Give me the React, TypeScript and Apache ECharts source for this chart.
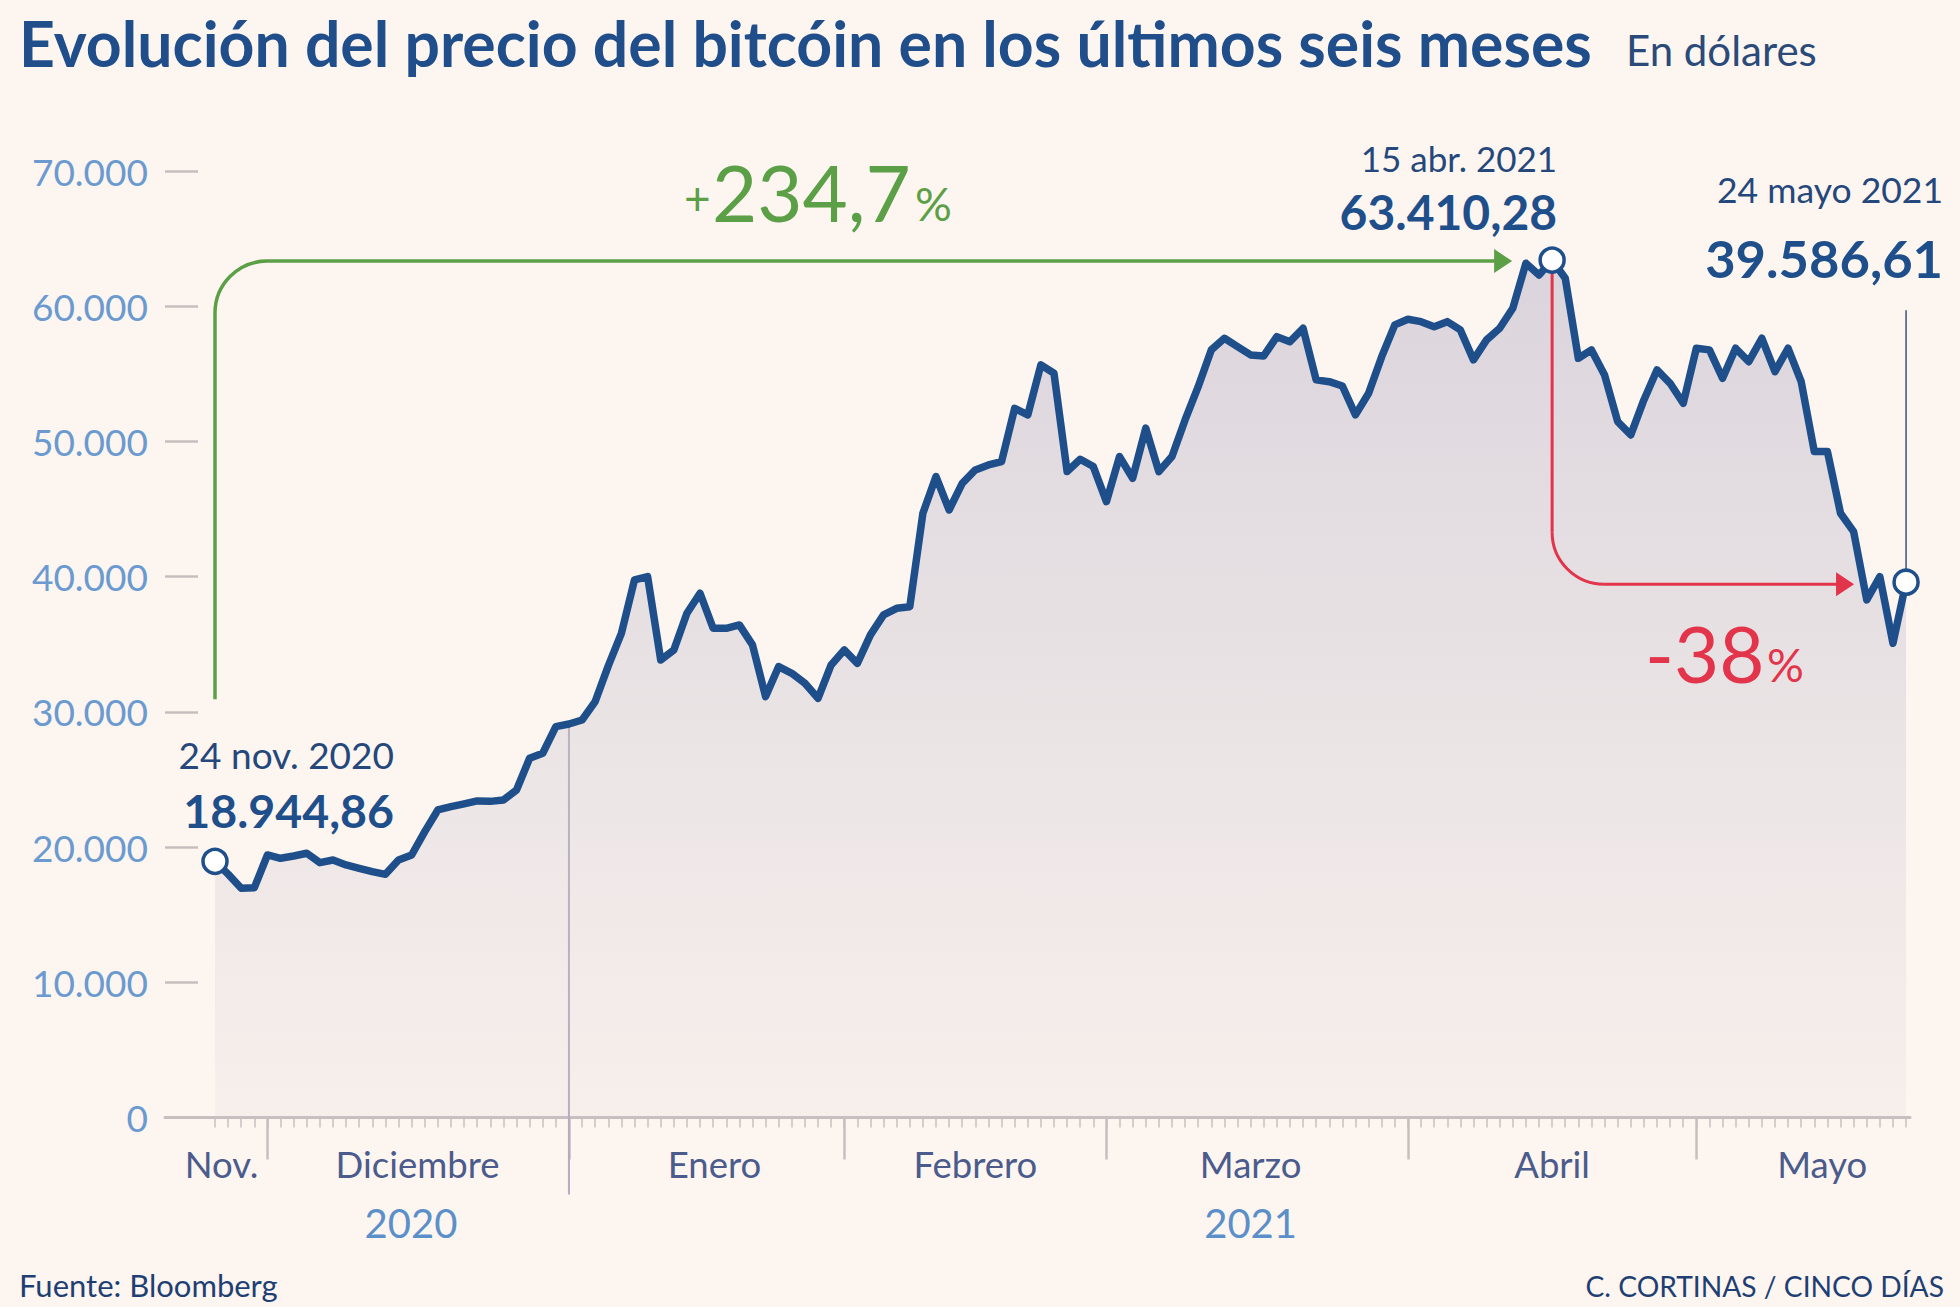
import React, { useEffect, useRef } from "react";
import * as echarts from "echarts";

// Bitcoin price, one value per weekday from 24 Nov 2020 (index 0) to 24 May 2021 (index 129)
const prices: number[] = [
  18944.86, 18000, 16950, 17000, 19415, 19170, 19340, 19540, 18850, 19045,
  18675, 18430, 18180, 17985, 19045, 19415, 21140, 22745, 22990, 23190,
  23410, 23380, 23480, 24220, 26570, 26940, 28910, 29100, 29400, 30760,
  33400, 35810, 39760, 40000, 33840, 34580, 37290, 38770, 36180, 36180,
  36430, 34950, 31130, 33350, 32850, 32110, 31000, 33470, 34580, 33590,
  35690, 37170, 37660, 37780, 44690, 47400, 44930, 46900, 47890, 48260,
  48510, 52450, 51960, 55660, 55040, 47770, 48680, 48140, 45550, 48880,
  47280, 50980, 47770, 48880, 51590, 54050, 56770, 57630, 57010, 56400,
  56320, 57750, 57380, 58370, 54550, 54420, 54100, 51960, 53560, 56270,
  58620, 59040, 58860, 58490, 58860, 58250, 56030, 57510, 58370, 59850,
  63180, 62310, 63410.28, 62070, 56150, 56770, 54920, 51470, 50480, 53070,
  55290, 54300, 52820, 56890, 56770, 54670, 56890, 55900, 57630, 55160,
  56890, 54420, 49250, 49250, 44690, 43330, 38280, 40000, 35070, 39586.61,
];

const startIndex = 0;
const peakIndex = 102;
const endIndex = 129;
const yearBreakIndex = 27; // last weekday of 2020

const monthEndIdx = [4, 27, 48, 68, 91, 113];
const monthNames = ["Nov.", "Diciembre", "Enero", "Febrero", "Marzo", "Abril", "Mayo"];
const monthLabelIdx = [0.5, 15.45, 38.1, 58, 79, 102, 122.6];
const yearNames = ["2020", "2021"];
const yearLabelIdx = [14.95, 79];

const yMin = 0;
const yMax = 70000;
const yStep = 10000;

const titleText = "Evolución del precio del bitcóin en los últimos seis meses";
const unitText = "En dólares";
const sourceText = "Fuente: Bloomberg";
const creditText = "C. CORTINAS / CINCO DÍAS";
const startDate = "24 nov. 2020";
const peakDate = "15 abr. 2021";
const endDate = "24 mayo 2021";
const riseText = "234,7";
const fallText = "-38";

const fmtThousands = (v: number) =>
  String(Math.round(v)).replace(/\B(?=(\d{3})+(?!\d))/g, ".");
const fmtPrice = (v: number) => {
  const [i, d] = v.toFixed(2).split(".");
  return fmtThousands(Number(i)) + "," + d;
};

const FONT = "Lato, 'Noto Sans', sans-serif";
const BLUE = "#1f4f8b";
const TXT = "#24477c";
const GREEN = "#5b9f47";
const RED = "#e2344a";
const AXIS = "#c7bfbf";
const BG = "#fdf5ef";

export default function App() {
  const ref = useRef<HTMLDivElement | null>(null);

  useEffect(() => {
    if (!ref.current) return;
    const chart = echarts.init(ref.current, undefined, { renderer: "svg" });
    const allIdx = prices.map((_, i) => i);
    const xMin = -3.814;
    const xMax = 129.3;

    const baseX = {
      type: "value" as const,
      min: xMin,
      max: xMax,
      position: "bottom" as const,
      offset: 0,
      splitLine: { show: false },
      axisLine: { show: false, onZero: false },
      axisTick: { show: false },
      axisLabel: { show: false },
    };

    chart.setOption({
      animation: false,
      backgroundColor: BG,
      textStyle: { fontFamily: FONT },
      grid: { left: 165, right: 50, top: 171, bottom: 189.5, containLabel: false },
      xAxis: [
        {
          ...baseX,
          axisLine: { show: true, onZero: false, lineStyle: { color: AXIS, width: 3 } },
          axisTick: {
            show: true,
            customValues: allIdx,
            length: 10,
            lineStyle: { color: AXIS, width: 1.5 },
          },
        },
        {
          ...baseX,
          axisTick: {
            show: true,
            customValues: monthEndIdx,
            length: 42,
            lineStyle: { color: AXIS, width: 2.5 },
          },
          axisLabel: {
            show: true,
            customValues: monthLabelIdx,
            formatter: (v: number) => monthNames[monthLabelIdx.indexOf(v)] ?? "",
            color: "#4a5b8c",
            fontSize: 36.5,
            fontFamily: FONT,
            margin: 28,
          },
        },
        {
          ...baseX,
          axisLabel: {
            show: true,
            customValues: yearLabelIdx,
            formatter: (v: number) => yearNames[yearLabelIdx.indexOf(v)] ?? "",
            color: "#5b8fc9",
            fontSize: 40,
            fontFamily: FONT,
            margin: 85,
          },
        },
      ],
      yAxis: {
        type: "value",
        min: yMin,
        max: yMax,
        interval: yStep,
        splitLine: { show: false },
        axisLine: { show: false, onZero: false },
        axisTick: { show: true, inside: true, length: 33, lineStyle: { color: AXIS, width: 2.5 } },
        axisLabel: {
          formatter: (v: number) => fmtThousands(v),
          color: "#6a9ad0",
          fontSize: 37,
          fontFamily: FONT,
          margin: 17,
        },
      },
      series: [
        {
          type: "line",
          xAxisIndex: 0,
          data: prices.map((v, i) => [i, v]),
          symbol: "none",
          z: 3,
          lineStyle: { color: BLUE, width: 7.5, join: "round", cap: "round" },
          areaStyle: {
            color: new echarts.graphic.LinearGradient(0, 0, 0, 1, [
              { offset: 0, color: "rgba(190,184,204,0.78)" },
              { offset: 1, color: "rgba(200,196,210,0.18)" },
            ]),
          },
        },
        {
          type: "scatter",
          xAxisIndex: 0,
          z: 6,
          symbol: "circle",
          symbolSize: 24,
          itemStyle: { color: "#ffffff", borderColor: BLUE, borderWidth: 3.5, opacity: 1 },
          data: [startIndex, peakIndex, endIndex].map((i) => [i, prices[i]]),
        },
      ],
    });

    const P = (i: number, v: number) =>
      chart.convertToPixel({ xAxisIndex: 0, yAxisIndex: 0 }, [i, v]) as number[];
    const [sx, sy] = P(startIndex, prices[startIndex]);
    const [pkx, pky] = P(peakIndex, prices[peakIndex]);
    const [ex, ey] = P(endIndex, prices[endIndex]);
    const [jx, jy] = P(yearBreakIndex, prices[yearBreakIndex]);
    const [, axisY] = P(0, 0);

    const r = 52;
    const head = 18;
    const hh = 12;
    const greenTop = pky + 1;
    const greenBottom = sy - 162;
    const greenTip = pkx - 40;
    const redY = ey + 2;
    const redTip = ex - 52;

    const txt = (
      text: string,
      x: number,
      baseline: number,
      size: number,
      opts: { bold?: boolean; color?: string; align?: string } = {}
    ) => ({
      type: "text",
      x,
      y: baseline - size * 0.36,
      z: 20,
      style: {
        text,
        fontFamily: FONT,
        fontSize: size,
        fontWeight: opts.bold ? "bold" : "normal",
        fill: opts.color ?? TXT,
        align: opts.align ?? "left",
        verticalAlign: "middle",
      },
    });

    chart.setOption({
      graphic: [
        // year separator
        {
          type: "line",
          z: 1,
          shape: { x1: jx, y1: jy, x2: jx, y2: axisY + 77 },
          style: { stroke: "#b3acc0", lineWidth: 2 },
        },
        // end guide line
        {
          type: "line",
          z: 4,
          shape: { x1: ex, y1: ey - 12, x2: ex, y2: ey - 272 },
          style: { stroke: "#3d4f7a", lineWidth: 1.5 },
        },
        // green arrow
        {
          type: "line",
          z: 4,
          shape: { x1: sx, y1: greenBottom, x2: sx, y2: greenTop + r },
          style: { stroke: GREEN, lineWidth: 3.5 },
        },
        {
          type: "arc",
          z: 4,
          shape: { cx: sx + r, cy: greenTop + r, r, startAngle: Math.PI, endAngle: Math.PI * 1.5, clockwise: true },
          style: { stroke: GREEN, lineWidth: 3.5, fill: "none" },
        },
        {
          type: "line",
          z: 4,
          shape: { x1: sx + r, y1: greenTop, x2: greenTip - head + 2, y2: greenTop },
          style: { stroke: GREEN, lineWidth: 3.5 },
        },
        {
          type: "polygon",
          z: 4,
          shape: { points: [[greenTip - head, greenTop - hh], [greenTip, greenTop], [greenTip - head, greenTop + hh]] },
          style: { fill: GREEN },
        },
        // red arrow
        {
          type: "line",
          z: 4,
          shape: { x1: pkx, y1: pky + 12, x2: pkx, y2: redY - r },
          style: { stroke: RED, lineWidth: 3 },
        },
        {
          type: "arc",
          z: 4,
          shape: { cx: pkx + r, cy: redY - r, r, startAngle: Math.PI, endAngle: Math.PI / 2, clockwise: false },
          style: { stroke: RED, lineWidth: 3, fill: "none" },
        },
        {
          type: "line",
          z: 4,
          shape: { x1: pkx + r, y1: redY, x2: redTip - head + 2, y2: redY },
          style: { stroke: RED, lineWidth: 3 },
        },
        {
          type: "polygon",
          z: 4,
          shape: { points: [[redTip - head, redY - hh], [redTip, redY], [redTip - head, redY + hh]] },
          style: { fill: RED },
        },
        // titles
        txt(titleText, 19, 65, 62.5, { bold: true, color: "#1f4e8a" }),
        txt(unitText, 1626, 65, 42, { color: "#2a4a7a" }),
        // annotations
        txt(startDate, sx + 179, sy - 94, 37, { align: "right" }),
        txt(fmtPrice(prices[startIndex]), sx + 179, sy - 35, 46.5, { bold: true, color: BLUE, align: "right" }),
        txt(peakDate, pkx + 5, pky - 90, 35, { align: "right" }),
        txt(fmtPrice(prices[peakIndex]), pkx + 5, pky - 31, 48, { bold: true, color: BLUE, align: "right" }),
        txt(endDate, ex + 37, ey - 380, 35.5, { align: "right" }),
        txt(fmtPrice(prices[endIndex]), ex + 37, ey - 306, 52.5, { bold: true, color: BLUE, align: "right" }),
        txt("+", 684, 214, 46, { color: GREEN }),
        txt(riseText, 712, 220, 78, { color: GREEN }),
        txt("%", 915, 220, 46, { color: GREEN }),
        txt(fallText, 1645, 681, 78, { color: RED }),
        txt("%", 1767, 681, 46, { color: RED }),
        // footer
        txt(sourceText, 19, 1296, 31, { color: "#1e3f73" }),
        txt(creditText, 1944, 1296, 28.2, { color: "#1e3f73", align: "right" }),
      ],
    });

    return () => chart.dispose();
  }, []);

  return (
    <div
      ref={ref}
      style={{ position: "fixed", left: 0, top: 0, width: 1960, height: 1307, background: BG }}
    />
  );
}
